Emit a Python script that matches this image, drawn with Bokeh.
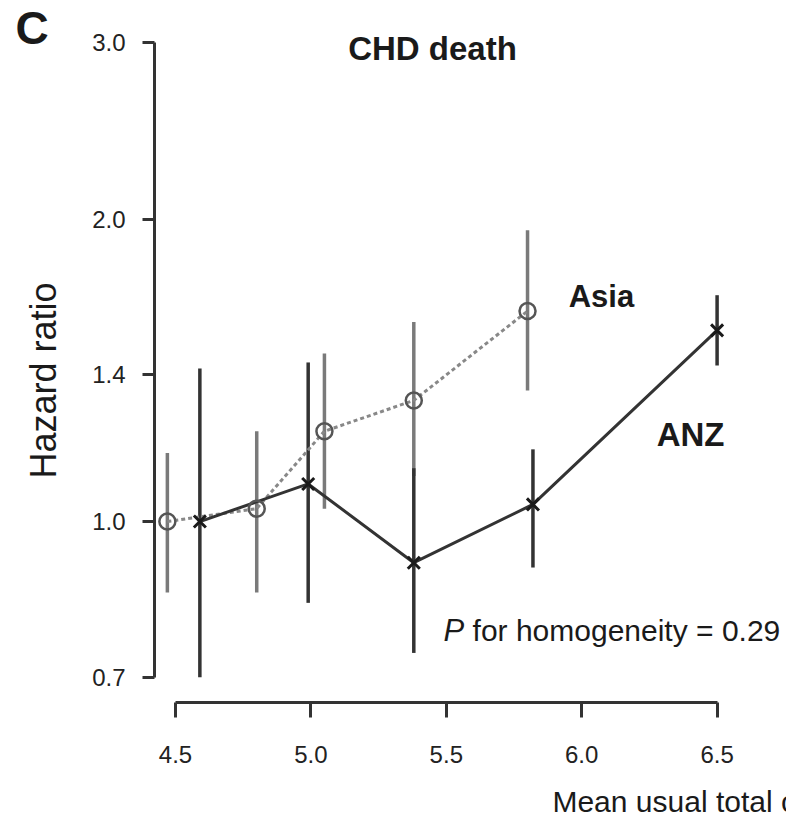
from bokeh.plotting import figure
from bokeh.models import Range1d, FixedTicker, PrintfTickFormatter, Label
from bokeh.embed import file_html
from bokeh.resources import INLINE
import math

# ---- data ----
asia_x = [4.47, 4.80, 5.05, 5.38, 5.80]
asia_hr = [1.00, 1.03, 1.23, 1.32, 1.62]
asia_lo = [0.85, 0.85, 1.03, 1.11, 1.35]
asia_hi = [1.17, 1.23, 1.47, 1.58, 1.95]

anz_x = [4.59, 4.99, 5.38, 5.82, 6.50]
anz_hr = [1.00, 1.09, 0.91, 1.04, 1.55]
anz_lo = [0.70, 0.83, 0.74, 0.90, 1.43]
anz_hi = [1.42, 1.44, 1.13, 1.18, 1.68]

x_ticks = [4.5, 5.0, 5.5, 6.0, 6.5]
y_ticks = [0.7, 1.0, 1.4, 2.0, 3.0]

FONT = "Liberation Sans"

# frame covers the whole canvas; axes are pinned at fixed locations inside it
p = figure(width=786, height=822,
           x_range=Range1d(3.8538, 6.7563), y_range=Range1d(0.5017, 3.301),
           y_axis_type="log", output_backend="svg", toolbar_location=None,
           min_border=0, min_border_left=0, min_border_right=0,
           min_border_top=0, min_border_bottom=0)
p.xgrid.visible = False
p.ygrid.visible = False
p.outline_line_color = None
p.background_fill_color = "white"
p.border_fill_color = "white"

p.xaxis.fixed_location = 0.6605
p.yaxis.fixed_location = 4.4225

for ax, ticks, bounds, tout, stand in ((p.xaxis, x_ticks, (4.5, 6.5), 15, 28),
                                       (p.yaxis, y_ticks, (0.7, 3.0), 12, 17)):
    ax.bounds = bounds
    ax.ticker = FixedTicker(ticks=ticks)
    ax.formatter = PrintfTickFormatter(format="%.1f")
    ax.major_tick_out = tout
    ax.major_tick_in = 0
    ax.minor_tick_out = 0
    ax.minor_tick_in = 0
    ax.axis_line_width = 3
    ax.axis_line_color = "#333333"
    ax.major_tick_line_width = 3
    ax.major_tick_line_color = "#333333"
    ax.major_label_text_font = FONT
    ax.major_label_text_font_size = "24px"
    ax.major_label_text_color = "#222222"
    ax.major_label_standoff = stand

# error bars
p.segment(x0=asia_x, y0=asia_lo, x1=asia_x, y1=asia_hi, line_color="#7a7a7a", line_width=3.5)
p.segment(x0=anz_x, y0=anz_lo, x1=anz_x, y1=anz_hi, line_color="#333333", line_width=3.5)

# lines
p.line(asia_x, asia_hr, line_color="#888888", line_width=3, line_dash="4 3")
p.line(anz_x, anz_hr, line_color="#333333", line_width=3)

# markers
p.scatter(asia_x, asia_hr, marker="circle", size=16, fill_color=None,
          line_color="#555555", line_width=2.5)
p.scatter(anz_x, anz_hr, marker="x", size=17, line_color="#1a1a1a", line_width=3)

def lab(x, y, text, size, style="normal", align="left", baseline="middle", angle=0.0):
    p.add_layout(Label(x=x, y=y, text=text, text_font=FONT, text_font_size=size,
                       text_font_style=style, text_align=align, text_baseline=baseline,
                       text_color="#1a1a1a", angle=angle))

lab(3.909, 3.10, "C", "46px", style="bold")
lab(5.449, 2.957, "CHD death", "33px", style="bold", align="center")
lab(6.073, 1.675, "Asia", "31px", style="bold", align="center")
lab(6.402, 1.221, "ANZ", "33px", style="bold", align="center")
lab(5.49, 0.779, "P", "31px", style="italic")
lab(5.597, 0.779, "for homogeneity = 0.29", "30px")
lab(5.892, 0.5264, "Mean usual total cholesterol (mmol/L)", "30px")
lab(4.0126, 1.3815, "Hazard ratio", "36px", align="center", angle=math.pi / 2)

open("out.html", "w").write(file_html(p, INLINE))
